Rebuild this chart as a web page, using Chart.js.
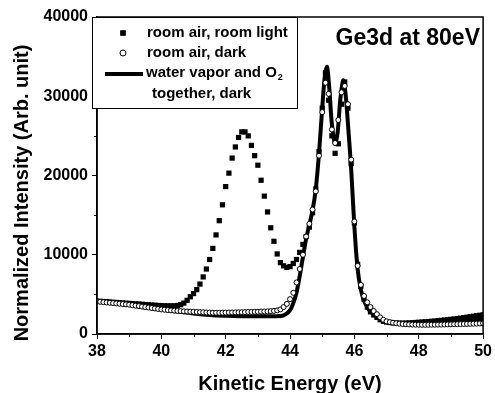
<!DOCTYPE html>
<html>
<head>
<meta charset="utf-8">
<script src="https://cdn.jsdelivr.net/npm/chart.js@4.4.1/dist/chart.umd.min.js"></script>
<style>
    html, body { margin: 0; padding: 0; background: #fff; }
    #wrap { width: 495px; height: 393px; }
</style>
</head>
<body>
<div id="wrap"><canvas id="ge3dChart" width="495" height="393"></canvas></div>
<script>
// ====== DADOS ======
const energies = [
    38.0, 38.1, 38.2, 38.3, 38.4, 38.5, 38.6, 38.7, 38.8, 38.9,
    39.0, 39.1, 39.2, 39.3, 39.4, 39.5, 39.6, 39.7, 39.8, 39.9,
    40.0, 40.1, 40.2, 40.3, 40.4, 40.5, 40.6, 40.7, 40.8, 40.9,
    41.0, 41.1, 41.2, 41.3, 41.4, 41.5, 41.6, 41.7, 41.8, 41.9,
    42.0, 42.1, 42.2, 42.3, 42.4, 42.5, 42.6, 42.7, 42.8, 42.9,
    43.0, 43.1, 43.2, 43.3, 43.4, 43.5, 43.6, 43.7, 43.8, 43.9,
    44.0, 44.1, 44.2, 44.3, 44.4, 44.5, 44.6, 44.7, 44.8, 44.9,
    45.0, 45.1, 45.2, 45.3, 45.4, 45.5, 45.6, 45.7, 45.8, 45.9,
    46.0, 46.1, 46.2, 46.3, 46.4, 46.5, 46.6, 46.7, 46.8, 46.9,
    47.0, 47.1, 47.2, 47.3, 47.4, 47.5, 47.6, 47.7, 47.8, 47.9,
    48.0, 48.1, 48.2, 48.3, 48.4, 48.5, 48.6, 48.7, 48.8, 48.9,
    49.0, 49.1, 49.2, 49.3, 49.4, 49.5, 49.6, 49.7, 49.8, 49.9,
    50.0
];

// room air, room light (quadrados cheios)
const roomLight = [
    4150, 4120, 4100, 4070, 4040, 4000, 3980, 3950, 3920, 3890,
    3860, 3830, 3800, 3780, 3750, 3720, 3690, 3660, 3630, 3600,
    3580, 3560, 3550, 3550, 3560, 3600, 3700, 3900, 4250, 4700,
    5100, 5600, 6300, 7200, 8200, 9400, 10800, 12500, 14300, 16300,
    18600, 20300, 22200, 23600, 24800, 25500, 25500, 25000, 23800, 22500,
    21300, 19400, 17400, 15400, 13400, 11700, 10100, 9000, 8600, 8400,
    8500, 8900, 9400, 10300, 11300, 12300, 13500, 15300, 18300, 23000,
    28500, 33000, 29500, 25000, 22800, 24000, 29000, 31800, 28500, 21500,
    14000, 8800, 6000, 4400, 3400, 2800, 2400, 2100, 1800, 1600,
    1500, 1450, 1400, 1380, 1370, 1370, 1380, 1400, 1420, 1450,
    1480, 1510, 1540, 1570, 1600, 1640, 1680, 1720, 1760, 1800,
    1850, 1900, 1950, 2000, 2060, 2120, 2180, 2240, 2300, 2360,
    2420
];

// room air, dark (círculos abertos)
const roomDark = [
    4100, 4060, 4020, 3980, 3940, 3900, 3860, 3820, 3780, 3740,
    3700, 3640, 3580, 3520, 3460, 3400, 3340, 3280, 3220, 3160,
    3100, 3060, 3020, 2980, 2950, 2920, 2890, 2860, 2840, 2820,
    2800, 2780, 2760, 2740, 2720, 2700, 2680, 2680, 2680, 2690,
    2700, 2710, 2720, 2730, 2740, 2750, 2760, 2780, 2790, 2800,
    2810, 2830, 2840, 2860, 2880, 2920, 2980, 3100, 3400, 3800,
    4400, 5200, 6500, 8200, 10000, 12300, 13900, 15700, 18000, 22500,
    28000, 31700, 30300, 25800, 24100, 27000, 30500, 31300, 29000, 22000,
    14200, 8600, 6200, 4800, 4000, 3400, 2900, 2500, 2100, 1800,
    1600, 1500, 1420, 1360, 1300, 1260, 1230, 1210, 1190, 1180,
    1170, 1160, 1160, 1160, 1170, 1170, 1180, 1190, 1200, 1210,
    1220, 1230, 1240, 1250, 1260, 1270, 1280, 1300, 1310, 1330,
    1350
];

// water vapor and O2 together, dark (linha grossa)
const lineEnergies = [
    38.0, 38.5, 39.0, 39.5, 40.0, 40.5, 41.0, 41.5, 42.0, 42.5,
    43.0, 43.5, 43.8, 44.0, 44.1, 44.2, 44.3, 44.4, 44.5, 44.6,
    44.7, 44.8, 44.9, 45.0, 45.08, 45.15, 45.22, 45.3, 45.4, 45.48,
    45.56, 45.65, 45.72, 45.8, 45.9, 46.0, 46.1, 46.2, 46.3, 46.4,
    46.5, 46.7, 46.9, 47.1, 47.4, 47.8, 48.2, 48.6, 49.0, 49.5,
    50.0
];
const vaporO2 = [
    4100, 3900, 3650, 3350, 3100, 2850, 2600, 2400, 2300, 2250,
    2250, 2250, 2350, 3000, 3900, 5200, 7300, 9700, 12000, 13800,
    15600, 18300, 22800, 28500, 32500, 33700, 31000, 26500, 24000, 25500,
    29500, 32000, 30500, 26500, 20800, 13500, 8200, 5600, 4200, 3400,
    2800, 2200, 1700, 1450, 1300, 1300, 1350, 1450, 1550, 1700,
    1900
];

const xTicks = [38, 40, 42, 44, 46, 48, 50];
const xMinorTicks = [39, 41, 43, 45, 47, 49];
const yTicks = [0, 10000, 20000, 30000, 40000];
const yMinorTicks = [5000, 15000, 25000, 35000];

const legendLabels = ['room air, room light', 'room air, dark', 'water vapor and O', 'together, dark'];
const plotTitle = 'Ge3d at 80eV';
const xTitle = 'Kinetic Energy (eV)';
const yTitle = 'Normalized Intensity (Arb. unit)';

const FONT = "'Liberation Sans', Arial, Helvetica, sans-serif";
Chart.defaults.font.family = FONT;
Chart.defaults.color = '#000';

// ====== PLUGIN: moldura, ticks menores, títulos e legenda ======
const decorPlugin = {
    id: 'decor',
    afterDraw(chart) {
        const ctx = chart.ctx;
        const area = chart.chartArea;
        const xs = chart.scales.x;
        const ys = chart.scales.y;

        ctx.save();
        ctx.strokeStyle = '#000';

        // moldura
        ctx.lineWidth = 1.5;
        ctx.strokeRect(area.left, area.top, area.right - area.left, area.bottom - area.top);

        // ticks menores
        ctx.lineWidth = 1;
        ctx.beginPath();
        xMinorTicks.forEach(v => {
            const px = Math.round(xs.getPixelForValue(v)) + 0.5;
            ctx.moveTo(px, area.bottom);
            ctx.lineTo(px, area.bottom + 3);
        });
        yMinorTicks.forEach(v => {
            const py = Math.round(ys.getPixelForValue(v)) + 0.5;
            ctx.moveTo(area.left, py);
            ctx.lineTo(area.left - 3, py);
        });
        ctx.stroke();

        // títulos dos eixos
        ctx.fillStyle = '#000';
        ctx.font = 'bold 20px ' + FONT;
        ctx.textAlign = 'center';
        ctx.textBaseline = 'alphabetic';
        ctx.fillText(xTitle, (area.left + area.right) / 2, 390);

        ctx.save();
        ctx.translate(28, 193);
        ctx.rotate(-Math.PI / 2);
        ctx.fillText(yTitle, 0, 0);
        ctx.restore();

        // título dentro do gráfico
        ctx.font = 'bold 23px ' + FONT;
        ctx.textAlign = 'right';
        ctx.fillText(plotTitle, 480, 45);

        // legenda
        const bx = 92, by = 17, bw = 205, bh = 91;
        ctx.fillStyle = '#fff';
        ctx.fillRect(bx, by, bw, bh);
        ctx.lineWidth = 1;
        ctx.strokeRect(bx + 0.5, by + 0.5, bw, bh);

        ctx.fillStyle = '#000';
        Chart.helpers.drawPoint(ctx, { pointStyle: 'rect', radius: 3.7, borderWidth: 0 }, 123, 33);
        ctx.fill();

        ctx.fillStyle = '#fff';
        ctx.strokeStyle = '#000';
        ctx.lineWidth = 1;
        ctx.beginPath();
        ctx.arc(123, 53, 3, 0, Math.PI * 2);
        ctx.fill();
        ctx.stroke();

        ctx.lineWidth = 4;
        ctx.beginPath();
        ctx.moveTo(105, 74);
        ctx.lineTo(143, 74);
        ctx.stroke();

        ctx.fillStyle = '#000';
        ctx.font = 'bold 15px ' + FONT;
        ctx.textAlign = 'left';
        ctx.textBaseline = 'middle';
        ctx.fillText(legendLabels[0], 147, 33);
        ctx.fillText(legendLabels[1], 147, 53);
        ctx.fillText(legendLabels[2], 146, 73);
        const w = ctx.measureText(legendLabels[2]).width;
        ctx.font = 'bold 9px ' + FONT;
        ctx.fillText('2', 146 + w + 1, 78);
        ctx.font = 'bold 15px ' + FONT;
        ctx.fillText(legendLabels[3], 152, 94);

        ctx.restore();
    }
};

// ====== GRÁFICO ======
const ctxGe = document.getElementById('ge3dChart');

new Chart(ctxGe, {
    type: 'scatter',
    data: {
        datasets: [
            {
                label: 'room air, dark',
                data: energies.map((e, i) => ({ x: e, y: roomDark[i] })),
                pointStyle: 'circle',
                pointRadius: 2.5,
                pointBackgroundColor: '#fff',
                pointBorderColor: '#000',
                pointBorderWidth: 1,
                showLine: false,
                order: 1
            },
            {
                label: 'water vapor and O2 together, dark',
                data: lineEnergies.map((e, i) => ({ x: e, y: vaporO2[i] })),
                showLine: true,
                borderColor: '#000',
                borderWidth: 4,
                pointRadius: 0,
                tension: 0.3,
                order: 2
            },
            {
                label: 'room air, room light',
                data: energies.map((e, i) => ({ x: e, y: roomLight[i] })),
                pointStyle: 'rect',
                pointRadius: 3.7,
                pointBackgroundColor: '#000',
                pointBorderColor: '#000',
                pointBorderWidth: 0,
                showLine: false,
                order: 3
            }
        ]
    },
    options: {
        responsive: false,
        animation: false,
        devicePixelRatio: 1,
        layout: {
            padding: { top: 17, right: 9, left: 0, bottom: 0 }
        },
        plugins: {
            legend: { display: false },
            tooltip: { enabled: false }
        },
        scales: {
            x: {
                type: 'linear',
                min: 38,
                max: 50,
                afterBuildTicks: axis => { axis.ticks = xTicks.map(v => ({ value: v })); },
                afterFit: scale => { scale.height = 59; },
                grid: { drawOnChartArea: false, drawTicks: true, tickLength: 5, color: '#000', tickWidth: 1 },
                border: { display: true, color: '#000', width: 1.5 },
                ticks: {
                    color: '#000',
                    padding: 3,
                    font: { size: 16, weight: 'bold' },
                    maxRotation: 0,
                    callback: v => String(v)
                }
            },
            y: {
                type: 'linear',
                min: 0,
                max: 40000,
                afterBuildTicks: axis => { axis.ticks = yTicks.map(v => ({ value: v })); },
                afterFit: scale => { scale.width = 97; },
                grid: { drawOnChartArea: false, drawTicks: true, tickLength: 5, color: '#000', tickWidth: 1 },
                border: { display: true, color: '#000', width: 1.5 },
                ticks: {
                    color: '#000',
                    padding: 4,
                    font: { size: 16, weight: 'bold' },
                    callback: v => String(v)
                }
            }
        }
    },
    plugins: [decorPlugin]
});
</script>
</body>
</html>
